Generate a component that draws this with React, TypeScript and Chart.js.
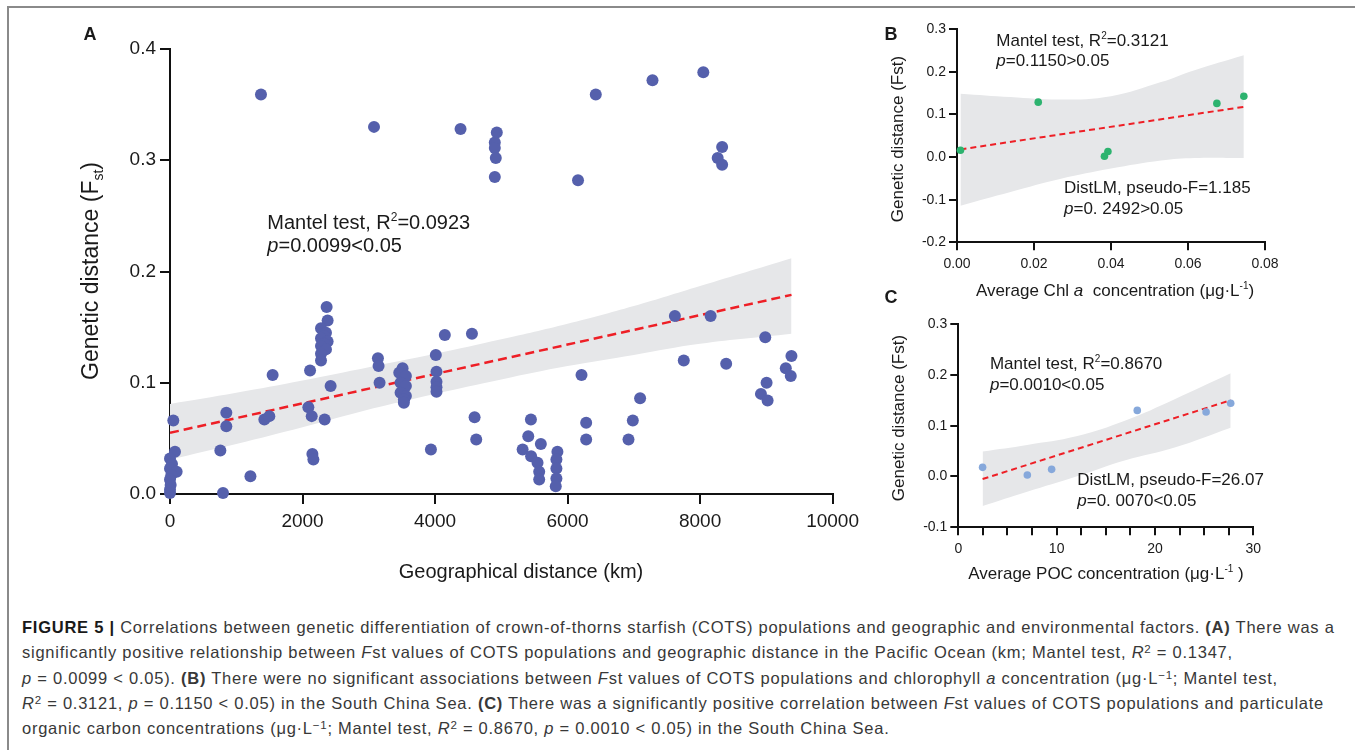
import React, { useEffect, useRef } from 'react';
import { Chart, registerables } from 'chart.js';

Chart.register(...registerables);

const FONT = '"Liberation Sans", Arial, Helvetica, sans-serif';
const RED = '#ee1f26';
const BAND = '#e6e7e9';

// ---------- Panel A: geographic distance vs Fst ----------
const A_GEO_KM = [
  1373, 3079, 4385, 4932, 4902, 4902, 4917, 4902, 6158, 6426, 7282, 8049, 8333, 8266, 8333,
  50, 75, 0, 30, 0, 100, 20, 0, 10, 0, 0,
  850, 850, 760, 800, 1214, 1424, 1499, 1549,
  2088, 2139, 2114, 2149, 2164, 2334, 2424,
  2364, 2379, 2279, 2354, 2330, 2279, 2379, 2330, 2279, 2354, 2279, 2279,
  3138, 3148, 3163,
  3510, 3460, 3560, 3480, 3560, 3480, 3560, 3530, 3530,
  3938, 4012, 4022, 4022, 4022, 4022, 4148, 4557, 4597, 4622,
  5447, 5407, 5597, 5322, 5450, 5547, 5572, 5572, 5847, 5832, 5832, 5832, 5822,
  6211, 6281, 6281, 6920, 6985, 7095,
  7620, 8159, 7754, 8394, 8984, 9004, 8919, 9019, 9379, 9294, 9369,
];
const A_FST = [
  0.359, 0.330, 0.328, 0.325, 0.316, 0.311, 0.302, 0.285, 0.282, 0.359, 0.372, 0.379, 0.312, 0.302, 0.296,
  0.066, 0.038, 0.032, 0.027, 0.023, 0.020, 0.017, 0.013, 0.008, 0.004, 0.001,
  0.073, 0.061, 0.039, 0.001, 0.016, 0.067, 0.070, 0.107,
  0.078, 0.070, 0.111, 0.036, 0.031, 0.067, 0.097,
  0.168, 0.156, 0.149, 0.145, 0.142, 0.140, 0.137, 0.135, 0.133, 0.130, 0.126, 0.120,
  0.122, 0.115, 0.100,
  0.113, 0.109, 0.106, 0.100, 0.097, 0.091, 0.088, 0.085, 0.082,
  0.040, 0.125, 0.110, 0.101, 0.096, 0.092, 0.143, 0.144, 0.069, 0.049,
  0.067, 0.052, 0.045, 0.040, 0.034, 0.028, 0.020, 0.013, 0.038, 0.031, 0.023, 0.014, 0.007,
  0.107, 0.064, 0.049, 0.049, 0.066, 0.086,
  0.160, 0.160, 0.120, 0.117, 0.141, 0.100, 0.090, 0.084, 0.124, 0.113, 0.106,
];
const A_FIT_X = [0, 9380];
const A_FIT_Y = [0.055, 0.179];
const A_BAND_X = [0, 1000, 2000, 3000, 4000, 5000, 6000, 7000, 8000, 9380];
const A_BAND_UPPER = [0.081, 0.091, 0.102, 0.114, 0.126, 0.139, 0.153, 0.169, 0.187, 0.212];
const A_BAND_LOWER = [0.031, 0.045, 0.060, 0.076, 0.090, 0.103, 0.115, 0.125, 0.135, 0.144];

// ---------- Panel B: Chl a vs Fst ----------
const B_CHL = [0.0009, 0.0211, 0.0383, 0.0392, 0.0675, 0.0745];
const B_FST = [0.016, 0.129, 0.002, 0.013, 0.126, 0.143];
const B_FIT_X = [0.0009, 0.0745];
const B_FIT_Y = [0.018, 0.118];
const B_BAND_X = [0.0009, 0.0139, 0.027, 0.040, 0.053, 0.0617, 0.0745];
const B_BAND_UPPER = [0.149, 0.141, 0.135, 0.143, 0.176, 0.204, 0.239];
const B_BAND_LOWER = [-0.114, -0.082, -0.051, -0.027, -0.008, -0.002, -0.002];

// ---------- Panel C: POC vs Fst ----------
const C_POC = [2.47, 7.02, 9.49, 18.2, 25.2, 27.7];
const C_FST = [0.018, 0.003, 0.014, 0.130, 0.127, 0.144];
const C_FIT_X = [2.47, 27.7];
const C_FIT_Y = [-0.005, 0.150];
const C_BAND_X = [2.47, 7, 12, 17, 22, 27.7];
const C_BAND_UPPER = [0.049, 0.062, 0.079, 0.110, 0.152, 0.203];
const C_BAND_LOWER = [-0.058, -0.030, 0.000, 0.032, 0.057, 0.096];

type Seg = { t: string; i?: boolean; b?: boolean; sup?: boolean; sub?: boolean };
type TextItem = {
  segs: Seg[];
  size: number;
  x: number;
  y: number;
  data?: boolean;
  align?: 'left' | 'center';
  rotate?: boolean;
  color?: string;
};

function drawRich(ctx: CanvasRenderingContext2D, item: TextItem, px: number, py: number) {
  const { segs, size } = item;
  const fontOf = (s: Seg) =>
    `${s.i ? 'italic ' : ''}${s.b ? 'bold ' : ''}${s.sup || s.sub ? Math.round(size * 0.6) : size}px ${FONT}`;
  let total = 0;
  const ws = segs.map((s) => {
    ctx.font = fontOf(s);
    const w = ctx.measureText(s.t).width;
    total += w;
    return w;
  });
  ctx.save();
  ctx.translate(px, py);
  if (item.rotate) ctx.rotate(-Math.PI / 2);
  let cx = item.align === 'center' ? -total / 2 : 0;
  const base = size * 0.36;
  ctx.fillStyle = item.color || '#1a1a1a';
  ctx.textBaseline = 'alphabetic';
  ctx.textAlign = 'left';
  segs.forEach((s, k) => {
    ctx.font = fontOf(s);
    const dy = s.sup ? -size * 0.42 : s.sub ? size * 0.2 : 0;
    ctx.fillText(s.t, cx, base + dy);
    cx += ws[k];
  });
  ctx.restore();
}

const textPlugin = (items: TextItem[]) => ({
  id: 'richText',
  afterDraw(chart: any) {
    const ctx = chart.ctx as CanvasRenderingContext2D;
    const xs = chart.scales.x;
    const ys = chart.scales.y;
    for (const it of items) {
      const px = it.data ? xs.getPixelForValue(it.x) : it.x;
      const py = it.data ? ys.getPixelForValue(it.y) : it.y;
      drawRich(ctx, it, px, py);
    }
  },
});

type Panel = {
  px: number[]; py: number[]; color: string; r: number;
  fitX: number[]; fitY: number[]; lw: number; dash: number[];
  bandX: number[]; bandU: number[]; bandL: number[];
  xMin: number; xMax: number; xStep: number; xFmt: (v: number) => string;
  yMin: number; yMax: number; yStep: number; yFmt: (v: number) => string;
  yW: number; xH: number; pad: { left: number; top: number; right: number; bottom: number };
  tickSize: number; tickLen: number; xPad: number; yPad: number;
  texts: TextItem[];
};

function buildConfig(p: Panel): any {
  const pts = (xs: number[], ys: number[]) => xs.map((x, i) => ({ x, y: ys[i] }));
  const axisCommon = {
    grid: {
      display: true, drawOnChartArea: false, drawTicks: true, tickLength: p.tickLen,
      tickWidth: 2, tickColor: '#111', lineWidth: 2, color: '#111',
    },
    border: { display: true, color: '#111', width: 2 },
  };
  return {
    type: 'line',
    data: {
      datasets: [
        {
          data: pts(p.px, p.py), showLine: false, pointRadius: p.r, pointHoverRadius: p.r,
          pointBackgroundColor: p.color, pointBorderWidth: 0, borderWidth: 0, clip: false,
        },
        {
          data: pts(p.fitX, p.fitY), borderColor: RED, borderWidth: p.lw, borderDash: p.dash,
          pointRadius: 0, fill: false,
        },
        {
          data: pts(p.bandX, p.bandU), borderWidth: 0, borderColor: 'rgba(0,0,0,0)', pointRadius: 0,
          fill: '+1', backgroundColor: BAND, tension: 0.4,
        },
        {
          data: pts(p.bandX, p.bandL), borderWidth: 0, borderColor: 'rgba(0,0,0,0)', pointRadius: 0,
          fill: false, tension: 0.4,
        },
      ],
    },
    options: {
      animation: false,
      responsive: false,
      events: [],
      layout: { padding: p.pad },
      plugins: { legend: { display: false }, tooltip: { enabled: false } },
      scales: {
        x: {
          type: 'linear', min: p.xMin, max: p.xMax,
          ticks: {
            stepSize: p.xStep, autoSkip: false, maxRotation: 0, padding: p.xPad,
            callback: (v: number) => p.xFmt(v), color: '#1a1a1a', font: { family: FONT, size: p.tickSize },
          },
          ...axisCommon,
          afterFit: (s: any) => { s.height = p.xH; },
        },
        y: {
          type: 'linear', min: p.yMin, max: p.yMax,
          ticks: {
            stepSize: p.yStep, autoSkip: false, padding: p.yPad,
            callback: (v: number) => p.yFmt(v), color: '#1a1a1a', font: { family: FONT, size: p.tickSize },
          },
          ...axisCommon,
          afterFit: (s: any) => { s.width = p.yW; },
        },
      },
    },
    plugins: [textPlugin(p.texts)],
  };
}

const PANEL_A: Panel = {
  px: A_GEO_KM, py: A_FST, color: '#5560ac', r: 6,
  fitX: A_FIT_X, fitY: A_FIT_Y, lw: 2.5, dash: [9, 5],
  bandX: A_BAND_X, bandU: A_BAND_UPPER, bandL: A_BAND_LOWER,
  xMin: 0, xMax: 10000, xStep: 2000, xFmt: (v) => String(Math.round(v)),
  yMin: 0, yMax: 0.4, yStep: 0.1, yFmt: (v) => v.toFixed(1),
  yW: 170, xH: 50, pad: { left: 0, top: 49, right: 28, bottom: 56 },
  tickSize: 19, tickLen: 10, xPad: 6, yPad: 4,
  texts: [
    { segs: [{ t: 'A', b: true }], size: 18, x: 90, y: 34, align: 'center' },
    { segs: [{ t: 'Genetic distance (F' }, { t: 'st', sub: true }, { t: ')' }], size: 23, x: 90, y: 271, align: 'center', rotate: true },
    { segs: [{ t: 'Geographical distance (km)' }], size: 20, x: 521, y: 571, align: 'center' },
    { segs: [{ t: 'Mantel test, R' }, { t: '2', sup: true }, { t: '=0.0923' }], size: 20, x: 1469, y: 0.2445, data: true },
    { segs: [{ t: 'p', i: true }, { t: '=0.0099<0.05' }], size: 20, x: 1469, y: 0.2238, data: true },
  ],
};

const PANEL_B: Panel = {
  px: B_CHL, py: B_FST, color: '#2db36f', r: 3.8,
  fitX: B_FIT_X, fitY: B_FIT_Y, lw: 2, dash: [6, 4],
  bandX: B_BAND_X, bandU: B_BAND_UPPER, bandL: B_BAND_LOWER,
  xMin: 0, xMax: 0.08, xStep: 0.02, xFmt: (v) => v.toFixed(2),
  yMin: -0.2, yMax: 0.3, yStep: 0.1, yFmt: (v) => v.toFixed(1),
  yW: 97, xH: 30, pad: { left: 0, top: 29.3, right: 90, bottom: 32.7 },
  tickSize: 14, tickLen: 8, xPad: 5, yPad: 3,
  texts: [
    { segs: [{ t: 'B', b: true }], size: 18, x: 31, y: 34, align: 'center' },
    { segs: [{ t: 'Genetic distance (Fst)' }], size: 17, x: 37, y: 139, align: 'center', rotate: true },
    {
      segs: [{ t: 'Average Chl ' }, { t: 'a', i: true }, { t: '  concentration (μg·L' }, { t: '-1', sup: true }, { t: ')' }],
      size: 17, x: 255, y: 290, align: 'center',
    },
    { segs: [{ t: 'Mantel test, R' }, { t: '2', sup: true }, { t: '=0.3121' }], size: 17, x: 0.0102, y: 0.2746, data: true },
    { segs: [{ t: 'p', i: true }, { t: '=0.1150>0.05' }], size: 17, x: 0.0102, y: 0.2275, data: true },
    { segs: [{ t: 'DistLM, pseudo-F=1.185' }], size: 17, x: 0.0278, y: -0.0706, data: true },
    { segs: [{ t: 'p', i: true }, { t: '=0. 2492>0.05' }], size: 17, x: 0.0278, y: -0.119, data: true },
  ],
};

const PANEL_C: Panel = {
  px: C_POC, py: C_FST, color: '#86a8db', r: 3.8,
  fitX: C_FIT_X, fitY: C_FIT_Y, lw: 2, dash: [6, 4],
  bandX: C_BAND_X, bandU: C_BAND_UPPER, bandL: C_BAND_LOWER,
  xMin: 0, xMax: 30, xStep: 2.5, xFmt: (v) => (Math.abs(v % 10) < 1e-9 ? String(Math.round(v)) : ''),
  yMin: -0.1, yMax: 0.3, yStep: 0.1, yFmt: (v) => v.toFixed(1),
  yW: 98.3, xH: 30, pad: { left: 0, top: 44, right: 101.7, bottom: 32.7 },
  tickSize: 14, tickLen: 8, xPad: 5, yPad: 3,
  texts: [
    { segs: [{ t: 'C', b: true }], size: 18, x: 31, y: 17, align: 'center' },
    { segs: [{ t: 'Genetic distance (Fst)' }], size: 17, x: 37.5, y: 138, align: 'center', rotate: true },
    {
      segs: [{ t: 'Average POC concentration (μg·L' }, { t: '-1', sup: true }, { t: ' )' }],
      size: 17, x: 246, y: 293.3, align: 'center',
    },
    { segs: [{ t: 'Mantel test, R' }, { t: '2', sup: true }, { t: '=0.8670' }], size: 17, x: 3.22, y: 0.2237, data: true },
    { segs: [{ t: 'p', i: true }, { t: '=0.0010<0.05' }], size: 17, x: 3.22, y: 0.182, data: true },
    { segs: [{ t: 'DistLM, pseudo-F=26.07' }], size: 17, x: 12.1, y: -0.005, data: true },
    { segs: [{ t: 'p', i: true }, { t: '=0. 0070<0.05' }], size: 17, x: 12.1, y: -0.046, data: true },
  ],
};

const supStyle: React.CSSProperties = { fontSize: '0.7em', lineHeight: 0, verticalAlign: '0.45em' };

export default function App() {
  const refA = useRef<HTMLCanvasElement>(null);
  const refB = useRef<HTMLCanvasElement>(null);
  const refC = useRef<HTMLCanvasElement>(null);

  useEffect(() => {
    const charts = [
      new Chart(refA.current!, buildConfig(PANEL_A)),
      new Chart(refB.current!, buildConfig(PANEL_B)),
      new Chart(refC.current!, buildConfig(PANEL_C)),
    ];
    return () => charts.forEach((c) => c.destroy());
  }, []);

  return (
    <div style={{ position: 'absolute', left: 0, top: 0, width: 1355, height: 750, background: '#fff', overflow: 'hidden' }}>
      <div
        style={{
          position: 'absolute', left: 7, top: 6, width: 1400, height: 800,
          borderTop: '2px solid #8a8a8a', borderLeft: '2px solid #8a8a8a',
        }}
      />
      <canvas ref={refA} width={865} height={600} style={{ position: 'absolute', left: 0, top: 0 }} />
      <canvas ref={refB} width={495} height={305} style={{ position: 'absolute', left: 860, top: 0 }} />
      <canvas ref={refC} width={495} height={310} style={{ position: 'absolute', left: 860, top: 280 }} />
      <div
        style={{
          position: 'absolute', left: 22, top: 615, fontFamily: FONT, fontSize: 16.5,
          letterSpacing: '0.75px', lineHeight: '25.3px', color: '#383838', whiteSpace: 'nowrap',
        }}
      >
        <div>
          <b style={{ color: '#1a1a1a' }}>FIGURE 5 |</b> Correlations between genetic differentiation of crown-of-thorns starfish (COTS) populations and geographic and environmental factors. <b>(A)</b> There was a
        </div>
        <div>
          significantly positive relationship between <i>F</i>st values of COTS populations and geographic distance in the Pacific Ocean (km; Mantel test, <i>R</i><span style={supStyle}>2</span> = 0.1347,
        </div>
        <div>
          <i>p</i> = 0.0099 &lt; 0.05). <b>(B)</b> There were no significant associations between <i>F</i>st values of COTS populations and chlorophyll <i>a</i> concentration (μg·L<span style={supStyle}>−1</span>; Mantel test,
        </div>
        <div>
          <i>R</i><span style={supStyle}>2</span> = 0.3121, <i>p</i> = 0.1150 &lt; 0.05) in the South China Sea. <b>(C)</b> There was a significantly positive correlation between <i>F</i>st values of COTS populations and particulate
        </div>
        <div>
          organic carbon concentrations (μg·L<span style={supStyle}>−1</span>; Mantel test, <i>R</i><span style={supStyle}>2</span> = 0.8670, <i>p</i> = 0.0010 &lt; 0.05) in the South China Sea.
        </div>
      </div>
    </div>
  );
}
